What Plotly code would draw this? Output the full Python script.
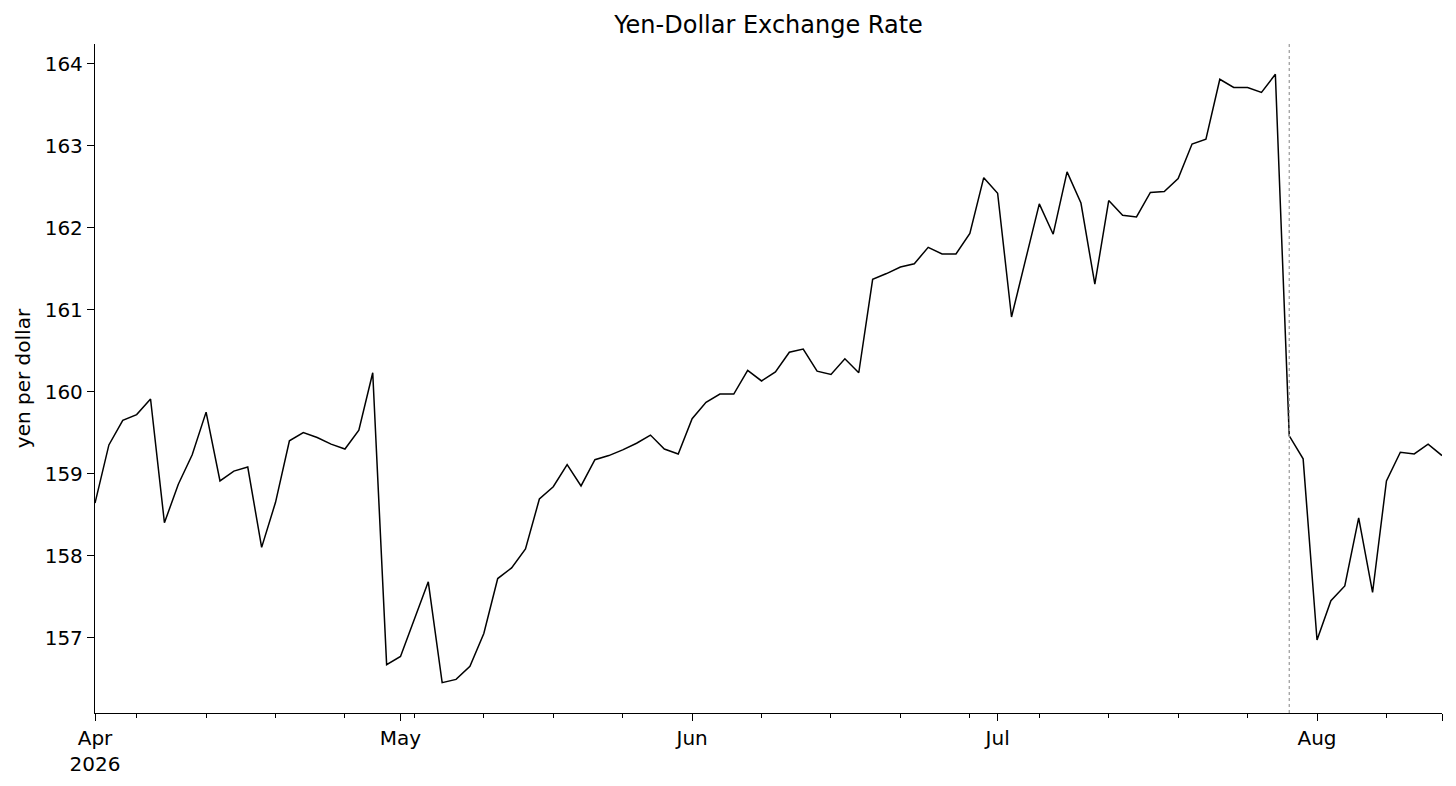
import pandas as pd
import plotly.graph_objects as go

# business days, Apr 1 - Aug 14 2026
dates = pd.bdate_range("2026-04-01", "2026-08-14")

yen_per_dollar = [
    158.64, 159.35, 159.65, 159.72, 159.91, 158.40, 158.87, 159.23, 159.75, 158.91,
    159.03, 159.08, 158.10, 158.65, 159.40, 159.50, 159.44, 159.36, 159.30, 159.53,
    160.23, 156.67, 156.77, 157.22, 157.68, 156.45, 156.49, 156.65, 157.05, 157.72,
    157.85, 158.08, 158.69, 158.84, 159.11, 158.85, 159.17, 159.22, 159.29, 159.37,
    159.47, 159.30, 159.24, 159.67, 159.87, 159.97, 159.97, 160.26, 160.13, 160.24,
    160.48, 160.52, 160.25, 160.21, 160.40, 160.23, 161.37, 161.44, 161.52, 161.56,
    161.76, 161.68, 161.68, 161.93, 162.61, 162.42, 160.91, 161.60, 162.29, 161.92,
    162.68, 162.30, 161.31, 162.33, 162.15, 162.13, 162.43, 162.44, 162.60, 163.02,
    163.08, 163.81, 163.71, 163.71, 163.65, 163.87, 159.46, 159.18, 156.97, 157.45,
    157.63, 158.46, 157.55, 158.91, 159.26, 159.24, 159.36, 159.22,
]

event_date = "2026-07-30"

month_ticks = ["2026-04-01", "2026-05-01", "2026-06-01", "2026-07-01", "2026-08-03", "2026-08-14"]
month_labels = ["Apr<br>2026", "May", "Jun", "Jul", "Aug", ""]
mondays = [d for d in dates if d.weekday() == 0]

fig = go.Figure()
fig.add_trace(go.Scatter(
    x=dates, y=yen_per_dollar, mode="lines",
    line=dict(color="black", width=1.5),
    showlegend=False,
))

fig.add_shape(
    type="line", x0=event_date, x1=event_date, y0=0, y1=1,
    xref="x", yref="paper",
    line=dict(color="#999999", width=1.2, dash="dot"),
)

# page body adds an 8px offset, margins account for it
fig.update_layout(
    width=1456, height=786,
    margin=dict(l=87, r=22, t=36, b=81),
    paper_bgcolor="white", plot_bgcolor="white",
    font=dict(family="DejaVu Sans", size=20, color="black"),
    title=dict(text="Yen-Dollar Exchange Rate", x=0.5, xref="paper", xanchor="center",
               y=1 - 17 / 786, yref="container", yanchor="middle",
               font=dict(size=24)),
)

fig.update_xaxes(
    type="date", automargin=False,
    range=["2026-04-01", "2026-08-14"],
    rangebreaks=[dict(bounds=["sat", "mon"])],
    tickmode="array", tickvals=month_ticks, ticktext=month_labels,
    ticks="outside", ticklen=7, tickwidth=1.3, tickcolor="black",
    minor=dict(tickmode="array", tickvals=mondays, ticks="outside",
               ticklen=4, tickwidth=1.2, tickcolor="black"),
    showline=True, linecolor="black", linewidth=1.3,
    showgrid=False, zeroline=False,
)

fig.update_yaxes(
    automargin=False,
    range=[156.08, 164.24],
    tickmode="array", tickvals=[157, 158, 159, 160, 161, 162, 163, 164],
    ticks="outside", ticklen=7, tickwidth=1.3, tickcolor="black",
    showline=True, linecolor="black", linewidth=1.3,
    showgrid=False, zeroline=False,
    title=dict(text="yen per dollar", standoff=8, font=dict(size=20)),
)

fig.write_html("out.html")
